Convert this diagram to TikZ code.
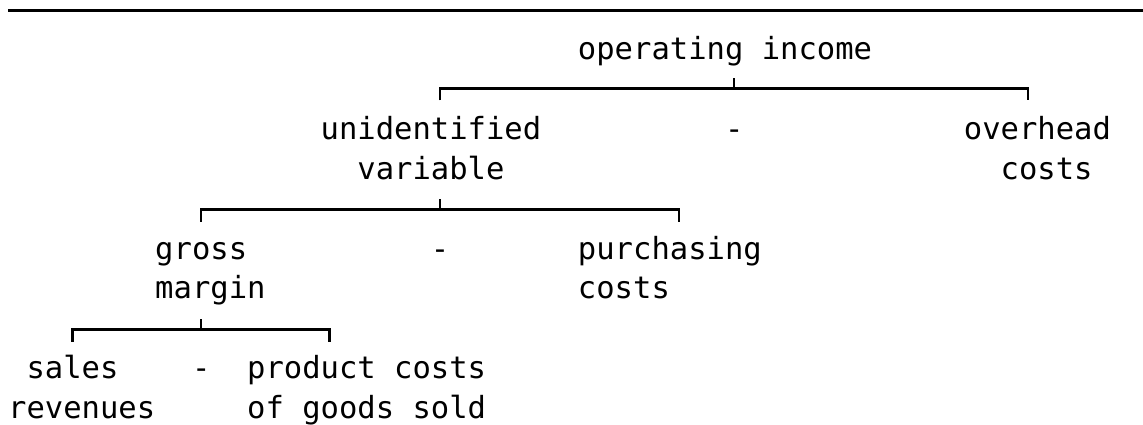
\documentclass[tikz,border=0pt]{standalone}
\usepackage{fontspec}
\setmonofont{DejaVu Sans Mono}
% one character cell of the monospaced grid
\newlength\cw
\setlength\cw{18.38pt}
% left edge of column #1, centre of column #1, baseline of text row #1
\newcommand\colx[1]{8+18.38*(#1)}
\newcommand\colc[1]{8+18.38*(#1+0.5)}
\newcommand\rowy[1]{60+39.8*(#1-1)}
% two stacked lines, the node's baseline on the first one
\newcommand\twolines[2]{\begin{tabular}[t]{@{}l@{}}#1\\#2\end{tabular}}
\begin{document}
\begin{tikzpicture}[x=1pt,y=-1pt,
  lbl/.style={anchor=base west, inner sep=0pt,
    font=\ttfamily\fontsize{30.53pt}{39.8pt}\selectfont},
  bracket/.style={line width=2.5pt, line cap=butt, line join=miter},
  rulestyle/.style={line width=2.7pt}]
\useasboundingbox (0,0) rectangle (1143,425);

% top rule
\coordinate (ruleL) at (8,10.5);
\coordinate (ruleR) at (1143,10.5);
\draw[rulestyle] (ruleL) -- (ruleR);

% level 1
\node[lbl] (oi) at ({\colx{31}},{\rowy{1}}) {operating income};

% level 2
\node[lbl] (uv) at ({\colx{17}},{\rowy{3}}) {\twolines{unidentified}{\hspace*{2\cw}variable}};
\node[lbl] (minusA) at ({\colx{39}},{\rowy{3}}) {-};
\node[lbl] (oh) at ({\colx{52}},{\rowy{3}}) {\twolines{overhead}{\hspace*{2\cw}costs}};

% level 3
\node[lbl] (gm) at ({\colx{8}},{\rowy{6}}) {\twolines{gross}{margin}};
\node[lbl] (minusB) at ({\colx{23}},{\rowy{6}}) {-};
\node[lbl] (pc) at ({\colx{31}},{\rowy{6}}) {\twolines{purchasing}{costs}};

% level 4
\node[lbl] (sr) at ({\colx{0}},{\rowy{9}}) {\twolines{\hspace*{\cw}sales}{revenues}};
\node[lbl] (minusC) at ({\colx{10}},{\rowy{9}}) {-};
\node[lbl] (pg) at ({\colx{13}},{\rowy{9}}) {\twolines{product costs}{of goods sold}};

% bracket junctions
\coordinate (oiT) at ({\colc{39}},88.5);
\coordinate (oiL) at ({\colc{23}},88.5);
\coordinate (oiR) at ({\colc{55}},88.5);
\coordinate (uvT) at ({\colc{23}},209.5);
\coordinate (uvL) at ({\colc{10}},209.5);
\coordinate (uvR) at ({\colc{36}},209.5);
\coordinate (gmT) at ({\colc{10}},329.5);
\coordinate (gmL) at ({\colc{3}},329.5);
\coordinate (gmR) at ({\colc{17}},329.5);

% operating income = unidentified variable - overhead costs
\draw[bracket] (oiT) -- ([yshift=10.5pt]oiT);
\draw[bracket] ([yshift=-12pt]oiL) -- (oiL) -- (oiR) -- ([yshift=-12pt]oiR);

% unidentified variable = gross margin - purchasing costs
\draw[bracket] (uvT) -- ([yshift=10.5pt]uvT);
\draw[bracket] ([yshift=-12pt]uvL) -- (uvL) -- (uvR) -- ([yshift=-12pt]uvR);

% gross margin = sales revenues - product costs of goods sold
\draw[bracket] (gmT) -- ([yshift=10.5pt]gmT);
\draw[bracket] ([yshift=-12pt]gmL) -- (gmL) -- (gmR) -- ([yshift=-12pt]gmR);
\end{tikzpicture}
\end{document}
